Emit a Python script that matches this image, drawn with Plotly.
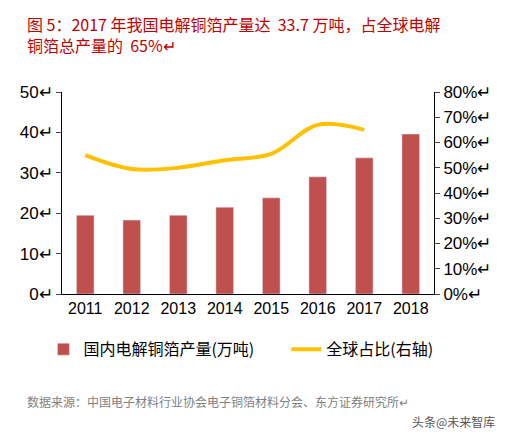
import plotly.graph_objects as go

years = ["2011","2012","2013","2014","2015","2016","2017","2018"]
prod = [19.5, 18.3, 19.5, 21.5, 23.8, 29.0, 33.7, 39.6]
share_years = ["2011","2012","2013","2014","2015","2016","2017"]
share = [55, 49.5, 50, 53, 55.5, 67, 65]
left_ticks = [0,10,20,30,40,50]
right_ticks = [0,10,20,30,40,50,60,70,80]

F = "Noto Sans CJK SC"
fig = go.Figure()
fig.add_bar(x=years, y=prod, name="国内电解铜箔产量(万吨)", marker_color="#C0504D", width=0.38,
            legend="legend", showlegend=True)
fig.add_scatter(x=share_years, y=share, name="全球占比(右轴)", yaxis="y2", mode="lines",
                line=dict(color="#FFC000", width=4, shape="spline", smoothing=1.0),
                legend="legend2", showlegend=True)
fig.update_layout(
    width=506, height=432, margin=dict(l=52, r=80, t=84, b=146),
    paper_bgcolor="white", plot_bgcolor="white", showlegend=True,
    font=dict(family=F, size=16, color="black"),
    xaxis=dict(showline=True, linecolor="black", ticks="", tickfont=dict(family="Arial", size=16)),
    yaxis=dict(range=[0,50], tickvals=left_ticks, ticktext=[f"{v}↵" for v in left_ticks], showline=True,
               linecolor="black", ticks="outside", ticklen=5, showgrid=False, zeroline=False,
               tickfont=dict(family="Arial", size=17)),
    yaxis2=dict(range=[0,80], tickvals=right_ticks, ticktext=[f"{v}%↵" for v in right_ticks], overlaying="y",
                side="right", showline=True, linecolor="black", ticks="outside", ticklen=5,
                showgrid=False, zeroline=False, tickfont=dict(family="Arial", size=17)),
    legend=dict(orientation="h", xref="container", yref="container", x=0.07, y=0.21,
                xanchor="left", yanchor="middle", font=dict(family=F, size=16),
                bgcolor="rgba(0,0,0,0)"),
    legend2=dict(orientation="h", xref="container", yref="container", x=0.55, y=0.21,
                 xanchor="left", yanchor="middle", font=dict(family=F, size=16),
                 bgcolor="rgba(0,0,0,0)"),
)
fig.add_annotation(xref="paper", yref="paper", x=-0.1, y=1.405, xanchor="left", yanchor="top",
                   align="left", showarrow=False,
                   text="图 5：2017 年我国电解铜箔产量达  33.7 万吨，占全球电解<br>铜箔总产量的  65%↵",
                   font=dict(family=F, size=16, color="#C00000"))
fig.add_annotation(xref="paper", yref="paper", x=-0.1, y=-0.48, xanchor="left", yanchor="top",
                   showarrow=False, text="数据来源：中国电子材料行业协会电子铜箔材料分会、东方证券研究所↵",
                   font=dict(family=F, size=12, color="#7F7F7F"))
fig.add_annotation(xref="paper", yref="paper", x=1.17, y=-0.58, xanchor="right", yanchor="top",
                   showarrow=False, text="头条@未来智库", font=dict(family=F, size=12, color="#555555"))
fig.write_html("out.html")
